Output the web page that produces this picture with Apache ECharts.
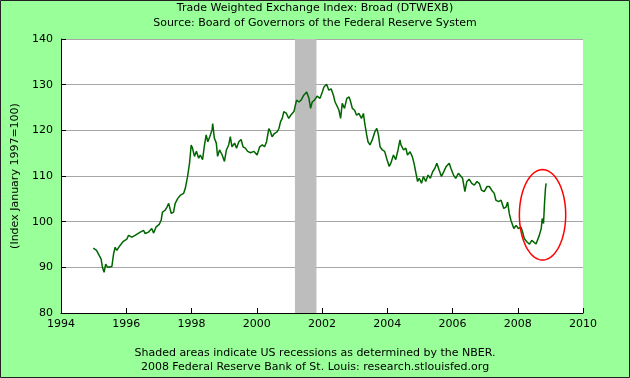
<!DOCTYPE html>
<html>
<head>
<meta charset="utf-8">
<script src="https://cdn.jsdelivr.net/npm/echarts@6/dist/echarts.min.js"></script>
<style>
html,body{margin:0;padding:0;background:#99ff99;}
#c{width:630px;height:378px;}
</style>
</head>
<body>
<div id="c"></div>
<script>
// Decimal years and index values
var dates = [
1994.99,1995.09,1995.17,1995.23,1995.27,1995.32,1995.37,1995.43,1995.56,1995.61,1995.66,1995.71,1995.81,1995.91,
1996.02,1996.07,1996.17,1996.27,1996.43,1996.53,1996.58,1996.68,1996.78,1996.84,1996.91,
1997.01,1997.07,1997.11,1997.19,1997.25,1997.30,1997.38,1997.45,1997.50,1997.58,1997.66,1997.76,1997.81,1997.88,1997.94,1997.99,
1998.03,1998.09,1998.15,1998.22,1998.27,1998.34,1998.39,1998.45,1998.50,1998.56,1998.63,1998.65,1998.70,1998.76,1998.80,1998.86,1998.94,
1999.01,1999.07,1999.14,1999.19,1999.24,1999.32,1999.38,1999.45,1999.52,1999.58,1999.65,1999.72,1999.81,1999.91,
2000.01,2000.09,2000.17,2000.24,2000.30,2000.37,2000.42,2000.47,2000.54,2000.63,2000.68,2000.73,2000.78,2000.83,2000.91,2000.98,
2001.04,2001.14,2001.22,2001.29,2001.36,2001.44,2001.53,2001.60,2001.65,2001.70,2001.77,2001.85,2001.94,
2002.01,2002.06,2002.14,2002.21,2002.28,2002.35,2002.40,2002.45,2002.52,2002.57,2002.62,2002.69,2002.76,2002.83,2002.88,2002.93,
2003.00,2003.06,2003.13,2003.21,2003.27,2003.31,2003.37,2003.41,2003.47,2003.54,2003.62,2003.68,2003.73,2003.78,2003.85,2003.92,2003.98,
2004.06,2004.11,2004.19,2004.26,2004.33,2004.39,2004.42,2004.50,2004.57,2004.62,2004.70,2004.77,2004.82,2004.88,2004.93,2004.98,
2005.05,2005.11,2005.18,2005.25,2005.32,2005.39,2005.46,2005.52,2005.59,2005.66,2005.73,2005.80,2005.90,2005.95,
2006.03,2006.10,2006.18,2006.24,2006.31,2006.38,2006.44,2006.51,2006.59,2006.67,2006.75,2006.82,2006.89,2006.97,
2007.06,2007.13,2007.20,2007.28,2007.33,2007.41,2007.49,2007.57,2007.64,2007.69,2007.74,2007.79,2007.88,2007.95,
2008.02,2008.10,2008.15,2008.20,2008.29,2008.36,2008.43,2008.49,2008.56,2008.61,2008.66,2008.72,2008.75,2008.79,2008.82,2008.85,2008.87
];
var values = [
94.2,93.7,92.6,91.8,90.0,88.9,90.7,90.0,90.2,92.9,94.4,93.7,94.8,95.7,
96.2,97.0,96.6,97.0,97.7,98.1,97.4,97.7,98.5,97.5,98.8,
99.4,100.3,102.1,102.5,103.2,104.0,101.8,102.1,104.0,105.1,105.8,106.2,107.3,109.9,112.8,116.8,
116.1,114.3,115.4,113.9,114.6,113.6,116.4,119.0,117.5,118.6,120.1,121.5,118.3,117.2,114.3,115.7,114.6,
113.2,115.7,116.8,118.6,116.4,117.2,116.1,117.5,118.0,116.4,116.1,115.4,115.1,115.4,
114.6,116.4,116.8,116.4,117.5,120.4,119.7,118.6,119.3,119.7,120.4,121.9,122.6,124.1,123.7,122.6,
123.3,124.1,126.6,126.2,126.6,127.7,128.4,127.0,124.8,126.2,126.6,127.5,127.0,
128.4,129.5,130.1,128.8,129.1,127.7,126.2,125.5,124.4,122.6,125.9,124.8,127.0,127.3,126.2,124.8,
124.4,123.3,123.7,122.6,123.7,121.5,119.0,117.5,116.8,117.9,119.7,120.4,119.0,116.4,115.7,115.4,113.9,
112.1,112.8,114.6,113.6,115.7,117.9,116.8,115.7,116.1,114.6,115.3,114.2,112.8,110.6,108.8,109.5,
108.4,109.9,108.8,110.2,109.5,110.9,111.7,112.8,111.3,109.9,110.9,112.0,112.8,111.7,
110.2,109.5,110.6,110.9,109.5,106.6,108.8,109.3,108.4,108.0,108.8,108.4,106.9,106.6,
107.7,107.7,106.9,106.2,104.7,104.4,104.7,102.9,103.2,104.3,101.8,100.3,98.5,99.2,
98.5,98.8,97.7,96.3,95.5,95.1,95.9,95.5,95.1,94.8,97.0,98.5,100.7,99.6,104.0,107.3,108.4
];
var recession = [2001.17, 2001.83];
var ellipseCenter = [2008.76, 101.5];
var ellipseRadii = [0.71, 9.9];
var xTicks = [1994, 2010, 2];
var yTicks = [80, 140, 10];

var titleText = 'Trade Weighted Exchange Index: Broad (DTWEXB)';
var subText = 'Source: Board of Governors of the Federal Reserve System';
var yName = '(Index January 1997=100)';
var foot1 = 'Shaded areas indicate US recessions as determined by the NBER.';
var foot2 = '2008 Federal Reserve Bank of St. Louis: research.stlouisfed.org';

var FONT = 'DejaVu Sans';
var lineData = dates.map(function(d, i){ return [d, values[i]]; });

var chart = echarts.init(document.getElementById('c'), null, {renderer:'canvas'});
chart.setOption({
  animation: false,
  backgroundColor: '#99ff99',
  textStyle: {fontFamily: FONT},
  grid: {left: 61, right: 47, top: 39, bottom: 65, containLabel: false,
         show: true, backgroundColor: '#ffffff', borderWidth: 0},
  graphic: [
    {type:'rect', shape:{x:0.5,y:0.5,width:629,height:377}, style:{fill:null, stroke:'#222', lineWidth:1}, z:100},
    {type:'text', left:'center', top:3, style:{text:titleText, font:'11px "DejaVu Sans"', fill:'#000'}},
    {type:'text', left:'center', top:18, style:{text:subText, font:'11px "DejaVu Sans"', fill:'#000'}},
    {type:'text', left:'center', top:348, style:{text:foot1, font:'11px "DejaVu Sans"', fill:'#000'}},
    {type:'text', left:'center', top:362, style:{text:foot2, font:'11px "DejaVu Sans"', fill:'#000'}}
  ],
  xAxis: {
    type: 'value', min: xTicks[0], max: xTicks[1], interval: xTicks[2],
    axisLine: {show:true, lineStyle:{color:'#000', width:1}},
    axisTick: {show:true, inside:true, length:5, lineStyle:{color:'#000'}},
    axisLabel: {color:'#000', fontSize:11, fontFamily:FONT, margin:6,
                formatter: function(v){ return String(v); }},
    splitLine: {show:false}
  },
  yAxis: {
    type: 'value', min: yTicks[0], max: yTicks[1], interval: yTicks[2],
    name: yName, nameLocation: 'middle', nameRotate: 90, nameGap: 34,
    nameTextStyle: {color:'#000', fontSize:11, fontFamily:FONT},
    axisLine: {show:true, lineStyle:{color:'#000', width:1}},
    axisTick: {show:true, inside:true, length:5, lineStyle:{color:'#000'}},
    axisLabel: {color:'#000', fontSize:11, fontFamily:FONT, margin:8},
    splitLine: {show:true, lineStyle:{color:'#a6a6a6', width:1}}
  },
  series: [
    {
      type: 'line', data: lineData, showSymbol: false, symbol: 'none',
      lineStyle: {color:'#006600', width:1.5},
      itemStyle: {color:'#006600'},
      z: 3,
      markArea: {
        silent: true,
        itemStyle: {color:'#bdbdbd', opacity:1},
        data: [[{xAxis: recession[0]}, {xAxis: recession[1]}]]
      }
    },
    {
      type: 'custom', silent: true, z: 4,
      data: [ellipseCenter],
      renderItem: function(params, api){
        var c = api.coord([api.value(0), api.value(1)]);
        var s = api.size(ellipseRadii);
        var pts = [];
        for (var k = 0; k < 96; k++) {
          var t = k / 96 * Math.PI * 2;
          pts.push([c[0] + s[0]*Math.cos(t), c[1] + s[1]*Math.sin(t)]);
        }
        return {type:'polygon', shape:{points:pts}, style:{fill:null, stroke:'#ff0000', lineWidth:1.5}};
      }
    }
  ]
});
</script>
</body>
</html>
